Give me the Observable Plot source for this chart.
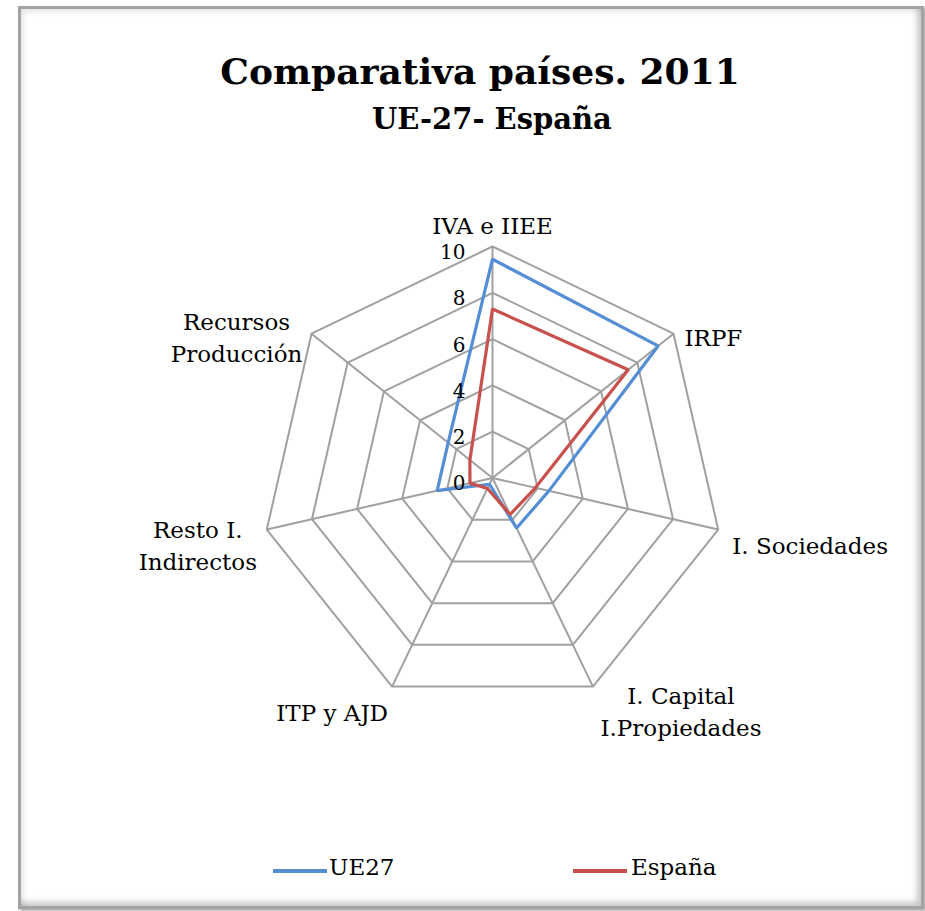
<!DOCTYPE html>
<html>
<head>
<meta charset="utf-8">
<script src="https://cdn.jsdelivr.net/npm/d3@7"></script>
<script src="https://cdn.jsdelivr.net/npm/@observablehq/plot@0.6"></script>
<style>
  html, body { margin: 0; padding: 0; background: #fff; }
  body { width: 925px; height: 911px; position: relative; overflow: hidden;
         font-family: Georgia, "DejaVu Serif", serif; color: #000; }
  #frame { position: absolute; left: 18px; top: 6px; width: 900px; height: 897px;
           border: 3px solid #a3a3a3;
           box-shadow: 2px 2px 3px rgba(0,0,0,0.35),
                       inset 9px 9px 6px -7px rgba(0,0,0,0.13),
                       inset -8px -8px 6px -4px rgba(0,0,0,0.22); }
  #chart { position: absolute; left: 0; top: 0; }
  .title { position: absolute; left: 180px; width: 600px; text-align: center;
           font-weight: bold; line-height: 1; white-space: nowrap; }
  #t1 { top: 53px; font-size: 36px; }
  #t2 { top: 105px; font-size: 29px; left: 192px; }
  .leg { position: absolute; font-size: 23px; line-height: 1; white-space: nowrap; }
  .sw { position: absolute; height: 4px; width: 54px; }
</style>
</head>
<body>
<div id="frame"></div>
<div id="chart"></div>
<div class="title" id="t1">Comparativa países. 2011</div>
<div class="title" id="t2">UE-27- España</div>
<div id="legend"></div>
<script>
// ---- data ----
const categories = ["IVA e IIEE", "IRPF", "I. Sociedades", "I. Capital\nI.Propiedades", "ITP y AJD", "Resto I.\nIndirectos", "Recursos\nProducción"];
const seriesNames = ["UE27", "España"];
const ue27Values   = [9.45, 9.15, 2.5, 2.4, 0.3, 2.45, 2.45];
const espanaValues = [7.3, 7.5, 1.9, 1.75, 0.5, 1.0, 1.25];
const tickValues = [0, 2, 4, 6, 8, 10];
const gridLevels = [2, 4, 6, 8, 10];

// ---- layout / style ----
const W = 925, H = 911, CX = 492, CY = 477.5, PX = 23.15;
const colors = ["#558ED5", "#C9514D"];
const gridColor = "#a0a0a0";
const font = 'Georgia, "DejaVu Serif", serif';
const labelLayout = [
  {anchor: "middle", dx: 0,   dy: -23},
  {anchor: "start",  dx: 11,  dy: 2},
  {anchor: "start",  dx: 14,  dy: 14},
  {anchor: "middle", dx: 88,  dy: 23},
  {anchor: "end",    dx: -4,  dy: 24},
  {anchor: "middle", dx: -69, dy: 14},
  {anchor: "middle", dx: -75, dy: 2}
];

const n = categories.length;
const ang = i => i * 2 * Math.PI / n;
const px = (r, i) => r * Math.sin(ang(i));
const py = (r, i) => r * Math.cos(ang(i));
const rMax = d3.max(tickValues);

const rings = gridLevels.flatMap(level => categories.map((c, i) => ({level, i})));
const spokes = categories.map((c, i) => ({i}));
const seriesData = [ue27Values, espanaValues].flatMap((vals, s) =>
  vals.map((v, i) => ({series: seriesNames[s], v, i})));
const tickData = tickValues.map(t => ({t}));

const marks = [
  Plot.line(rings, {x: d => px(d.level, d.i), y: d => py(d.level, d.i), z: "level",
    curve: "linear-closed", stroke: gridColor, strokeWidth: 2}),
  Plot.link(spokes, {x1: 0, y1: 0, x2: d => px(rMax, d.i), y2: d => py(rMax, d.i),
    stroke: gridColor, strokeWidth: 2}),
  Plot.line(seriesData, {x: d => px(d.v, d.i), y: d => py(d.v, d.i), z: "series",
    stroke: "series", curve: "linear-closed", strokeWidth: 3.2, strokeLinejoin: "miter"}),
  Plot.text(tickData, {x: 0, y: d => d.t, text: d => String(d.t), textAnchor: "end",
    dx: -27, dy: 6, fontSize: 20, fill: "#000"}),
  ...categories.map((c, i) => Plot.text([c], {
    x: px(rMax, i), y: py(rMax, i), text: d => d,
    textAnchor: labelLayout[i].anchor, dx: labelLayout[i].dx, dy: labelLayout[i].dy,
    fontSize: 23, lineHeight: 1.39, fill: "#000"}))
];

const chart = Plot.plot({
  width: W, height: H, margin: 0,
  x: {domain: [-CX / PX, (W - CX) / PX], axis: null},
  y: {domain: [-(H - CY) / PX, CY / PX], axis: null},
  color: {domain: seriesNames, range: colors},
  style: {background: "transparent", fontFamily: font, overflow: "visible"},
  marks
});
document.getElementById("chart").appendChild(chart);

// ---- legend ----
const legend = document.getElementById("legend");
const legPos = [{sx: 273, tx: 329}, {sx: 573, tx: 631}];
seriesNames.forEach((name, s) => {
  const sw = document.createElement("div");
  sw.className = "sw";
  sw.style.left = legPos[s].sx + "px";
  sw.style.top = "869px";
  sw.style.background = colors[s];
  legend.appendChild(sw);
  const t = document.createElement("div");
  t.className = "leg";
  t.style.left = legPos[s].tx + "px";
  t.style.top = "856px";
  t.textContent = name;
  legend.appendChild(t);
});
</script>
</body>
</html>
